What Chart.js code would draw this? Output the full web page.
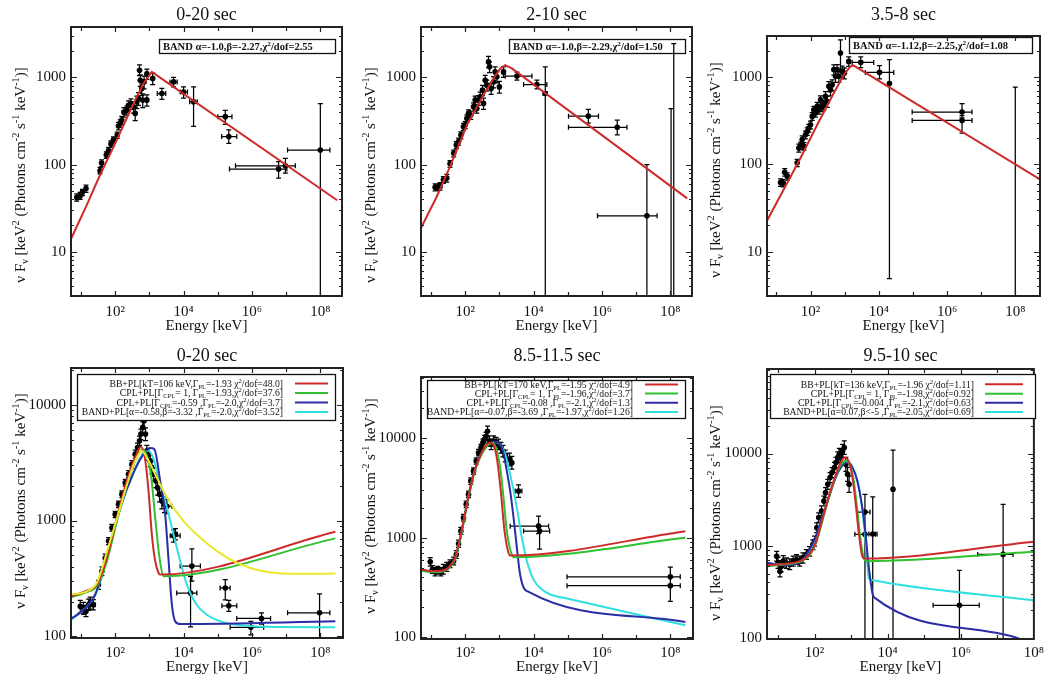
<!DOCTYPE html>
<html><head><meta charset="utf-8">
<script src="https://cdn.jsdelivr.net/npm/chart.js@4.4.1/dist/chart.umd.min.js"></script>
<style>
html,body{margin:0;padding:0;background:#fff;}
body{width:1049px;height:682px;position:relative;overflow:hidden;}
canvas{position:absolute;}
</style></head><body>
<canvas id="c1" width="350" height="341" style="left:0;top:0"></canvas>
<canvas id="c2" width="350" height="341" style="left:350px;top:0"></canvas>
<canvas id="c3" width="349" height="341" style="left:700px;top:0"></canvas>
<canvas id="c4" width="350" height="341" style="left:0;top:341px"></canvas>
<canvas id="c5" width="350" height="341" style="left:350px;top:341px"></canvas>
<canvas id="c6" width="349" height="341" style="left:700px;top:341px"></canvas>
<script>
// ---------------- text ----------------
const panelTitles = ['0-20 sec','2-10 sec','3.5-8 sec','0-20 sec','8.5-11.5 sec','9.5-10 sec'];
const xTitle = 'Energy [keV]';
const yTitle = 'ν F_{ν} [keV^{2} (Photons cm^{-2} s^{-1} keV^{-1})]';
const xTickExp  = [2, 4, 6, 8];
const xTickText = ['10²', '10⁴', '10⁶', '10⁸'];
const topYLabels = [10, 100, 1000];
const botYLabels = [100, 1000, 10000];
const bandLabels = [
  'BAND α=-1.0,β=-2.27,χ^{2}/dof=2.55',
  'BAND α=-1.0,β=-2.29,χ^{2}/dof=1.50',
  'BAND α=-1.12,β=-2.25,χ^{2}/dof=1.08'
];
const legend1 = [
  'BB+PL[kT=106 keV,Γ_{PL}=-1.93 χ^{2}/dof=48.0]',
  'CPL+PL[Γ_{CPL}= 1, Γ_{PL}=-1.93,χ^{2}/dof=37.6]',
  'CPL+PL[Γ_{CPL}=-0.59 ,Γ_{PL}=-2.0,χ^{2}/dof=3.7]',
  'BAND+PL[α=-0.58,β=-3.32 ,Γ_{PL}=-2.0,χ^{2}/dof=3.52]'
];
const legend2 = [
  'BB+PL[kT=170 keV,Γ_{PL}=-1.95 χ^{2}/dof=4.9]',
  'CPL+PL[Γ_{CPL}= 1, Γ_{PL}=-1.96,χ^{2}/dof=3.7]',
  'CPL+PL[Γ_{CPL}=-0.08 ,Γ_{PL}=-2.1,χ^{2}/dof=1.3]',
  'BAND+PL[α=-0.07,β=-3.69 ,Γ_{PL}=-1.97,χ^{2}/dof=1.26]'
];
const legend3 = [
  'BB+PL[kT=136 keV,Γ_{PL}=-1.96 χ^{2}/dof=1.11]',
  'CPL+PL[Γ_{CPL}= 1, Γ_{PL}=-1.98,χ^{2}/dof=0.92]',
  'CPL+PL[Γ_{CPL}=-0.004 ,Γ_{PL}=-2.1,χ^{2}/dof=0.63]',
  'BAND+PL[α=0.07,β<-5 ,Γ_{PL}=-2.05,χ^{2}/dof=0.69]'
];

// ---------------- panel 1 (top, 0-20 sec) ----------------
const t1E   = [7.5,9.5,11,14,36,40,55,64,75,89,115,125,140,155,180,219,245,290,344,385,430,480,540,515,600,640,700,845,845,1250,2320,5100,1e4,1.96e4,1.66e5,2.1e5,6e6,9.5e6,1e8];
const t1F   = [42,44,48,53,85,104,129,145,172,192,218,277,297,325,400,420,480,500,461,387,525,575,930,1210,750,550,890,550,1100,975,655,890,680,525,355,210,89,97,147];
const t1Elo = [7,8.8,10.2,13,34,38,52,61,71,85,110,119,133,147,171,208,233,276,327,366,409,456,513,490,570,608,665,780,800,1150,1700,4000,8000,1.5e4,1.0e5,1.3e5,2.2e5,3.3e5,1.1e7];
const t1Ehi = [8,10.2,11.8,15,38,42,58,67,79,93,120,131,147,163,189,230,257,304,361,404,451,504,567,540,630,672,735,910,890,1350,3000,6500,1.3e4,2.5e4,2.6e5,3.6e5,1.05e7,1.85e7,1.9e8];
const t1Flo = [38,40,44,48,78,95,118,133,158,176,200,250,268,292,350,370,420,430,390,320,440,480,790,1050,620,450,740,470,950,830,560,780,580,275,290,175,70,80,2];
const t1Fhi = [46,48,52,58,93,113,140,158,187,208,236,305,326,358,450,470,540,570,530,455,610,670,1070,1400,880,650,1040,630,1250,1120,750,1000,780,780,420,250,108,118,500];
const t1BandE = [5.1,14.8,36,112,344,675,1180,3.1e8];
const t1BandF = [14,34.5,76,192,504,853,1160,39];

// ---------------- panel 2 (top, 2-10 sec) ----------------
const t2E   = [13.2,15.5,18.5,23,29,36,46,55,64,75,89,100,112,125,146,175,196,219,245,275,320,344,385,430,480,515,575,675,750,845,1000,1320,3250,1.25e4,2.2e4,4e5,2.8e6,2.06e7,1.05e8,1.26e8];
const t2F   = [55,55,56,67,70,102,135,168,184,218,272,285,339,387,370,461,550,441,550,600,716,504,930,817,1510,1325,750,890,1160,1020,780,1160,1040,830,655,360,268,25.8,null,null];
const t2Elo = [12.5,14.7,17.5,22,27.5,34,44,52,61,71,85,95,106,119,139,166,186,208,233,261,304,327,366,409,456,490,546,641,713,803,950,1200,1480,5100,1.9e4,1.05e5,1.05e5,7.4e5,1.05e8,1.26e8];
const t2Ehi = [14,16.3,19.5,24,30.5,38,48,58,67,79,93,105,118,131,153,184,206,230,257,289,336,361,404,451,504,540,604,709,788,887,1050,1450,8930,2.45e4,2.5e4,7.9e5,5.4e6,4.1e7,1.05e8,1.26e8];
const t2Flo = [50,50,51,61,63,93,123,153,167,198,247,258,305,348,330,410,490,390,480,520,620,430,800,700,1300,1140,640,760,1000,870,660,1000,930,740,2,300,220,2,2,2];
const t2Fhi = [60,60,62,73,77,111,147,183,201,238,297,312,373,426,410,512,610,492,620,680,812,578,1060,934,1750,1510,860,1020,1320,1170,900,1320,1150,930,1325,430,325,100,440,2450];
const t2BandE = [5.1,14.8,36,112,344,675,1060,1480,2320,3.1e8];
const t2BandF = [18.7,43,95,284,628,975,1270,1385,1270,41];

// ---------------- panel 3 (top, 3.5-8 sec) ----------------
const t3E   = [13.2,15.8,17.5,20.8,40.7,45.5,51,57,64,71,80,89,100,112,125,140,157,176,196,220,246,275,308,344,385,430,482,540,603,675,755,845,985,1325,2960,1.05e4,2.05e4,2.75e6,2.75e6,1e8];
const t3F   = [62,61,81,73,104,154,164,192,161,218,238,260,284,354,420,387,461,422,550,461,482,600,525,782,716,815,1215,1020,1215,1020,1880,1160,1110,1510,1470,1130,840,397,318,null];
const t3Elo = [12.5,15,16.6,19.8,38.7,43,48.5,54,61,67.5,76,85,95,106,119,133,149,167,186,209,234,261,293,327,366,409,458,513,573,641,717,803,936,1200,1660,4050,1.9e4,9.5e4,9.5e4,1e8];
const t3Ehi = [14,16.6,18.4,21.8,42.7,48,53.5,60,67,74.5,84,93,105,118,131,147,165,185,206,231,258,289,323,361,404,451,506,567,633,709,793,887,1034,1450,7100,2.75e4,2.2e4,5.4e6,5.4e6,1e8];
const t3Flo = [56,55,73,66,94,138,148,173,145,196,214,234,255,318,378,348,410,375,490,400,420,520,450,680,610,700,1050,870,1040,870,1160,990,950,1320,1280,950,4.9,340,228,2];
const t3Fhi = [68,67,89,80,114,170,180,211,177,240,262,286,313,390,462,426,512,470,610,522,545,680,600,885,822,930,1380,1170,1390,1170,2670,1330,1270,1700,1700,1350,1580,495,360,768];
const t3BandE = [5.3,51,157,482,945,1480,1850,5.3e8];
const t3BandF = [22.6,118,284,655,1063,1325,1350,67];

// ---------------- panel 4 (bottom, 0-20 sec) ----------------
const b1E   = [9.5,11.8,14,16.6,18.5,23,32.5,41,51,64,80,100,125,157,196,245,308,385,450,515,565,640,700,770,845,945,1060,1180,1320,1550,1740,1980,2320,2740,3250,5100,5800,1.75e4,1.6e4,1.66e5,2.1e5,9.3e5,1.9e6,9.5e7];
const b1F   = [182,176,165,188,194,188,280,366,475,665,866,1130,1380,1690,2120,2510,3050,3740,4270,4880,5570,6360,7270,5570,3990,3740,3270,2870,2510,2200,1920,1690,1475,1380,1330,738,760,405,237,262,184,120,143,160];
const b1Elo = [9,11.2,13.3,15.8,17.6,20,31,39,48.5,61,76,95,119,149,186,233,293,366,428,490,537,608,665,732,803,898,1007,1121,1254,1470,1650,1880,2200,2600,2900,4070,5000,7950,6300,1.17e5,1.32e5,2.3e5,3.6e5,1.1e7];
const b1Ehi = [10,12.4,14.7,17.4,19.4,26,34,43,53.5,67,84,105,131,165,206,257,323,404,472,540,593,672,735,808,887,992,1113,1239,1386,1630,1830,2080,2440,2880,4560,7950,6600,3.1e4,2.45e4,2.3e5,3.6e5,2.2e6,3.5e6,1.9e8];
const b1Flo = [160,155,148,168,172,170,255,335,440,620,810,1060,1290,1580,1980,2340,2830,3450,3900,4450,5000,5600,6300,4900,3550,3300,2900,2530,2200,1920,1660,1450,1260,1170,1150,650,680,300,121,207,165,103,128,50];
const b1Fhi = [205,197,185,210,218,208,305,398,512,712,925,1200,1470,1800,2260,2690,3280,4050,4650,5350,6150,7100,8200,6300,4450,4200,3650,3220,2830,2500,2190,1940,1700,1600,1520,830,850,570,330,310,205,135,160,233];
const b1BBE  = [5.1,14.8,29,57,112,219,385,565,760,945,1180,1480,1860,2070,2.75e8];
const b1BBF  = [222,248,280,476,1060,2200,3500,4330,3270,1800,759,446,353,342,800];
const b1CPL1E = [5.1,14.8,29,57,112,219,385,640,845,1110,1480,1980,2600,2.75e8];
const b1CPL1F = [218,242,271,446,990,2050,3270,4130,3610,2510,1060,476,330,702];
const b1CPL2E = [5.1,11.8,26,57,140,344,675,1060,1390,2070,2900,3600,4550,5700,8000,2.75e8];
const b1CPL2F = [142,170,230,476,1290,2590,3740,4220,4130,2200,1130,476,188,135,128,135];
const b1BandE = [5.1,11.8,26,57,140,344,675,945,1320,2070,3250,5100,8000,1.25e4,2.4e4,4.8e4,1.2e5,4.6e5,2.8e6,2.75e8];
const b1BandF = [139,170,226,461,1250,2590,3860,4000,3390,2050,1290,759,446,280,188,154,135,125,121,120];
const b1YelE = [5.1,14.8,29,71,140,275,430,600,845,1650,3250,1e4,3.1e4,9.5e4,2.9e5,9e5,2.8e6,2.6e7,2.75e8];
const b1YelF = [230,245,290,665,1290,2510,3500,4000,3500,2350,1580,990,710,545,446,390,360,347,349];

// ---------------- panel 5 (bottom, 8.5-11.5 sec) ----------------
const b2E   = [9.5,11,13.2,15.8,19.4,23,29,36,46,55,64,75,89,107,125,146,175,210,245,290,330,370,410,450,515,575,675,800,945,1110,1270,1480,1740,1980,2320,3630,1.4e4,1.5e4,1e8,1e8];
const b2F   = [575,481,455,470,455,481,510,547,585,680,870,1170,1590,2170,2730,3720,4680,5910,7170,8060,9060,9770,10500,11800,9400,8700,9400,9060,8700,8060,7450,6650,6150,6150,5690,2950,1310,1170,405,330];
const b2Elo = [9,10.4,12.5,15,18.4,21,27,34,44,52,61,71,85,102,119,139,166,200,233,276,314,352,390,428,490,546,641,760,898,1055,1207,1406,1653,1880,2200,2900,2070,5100,9.5e4,9.5e4];
const b2Ehi = [10,11.6,13.9,16.6,20.4,25,31,38,48,58,67,79,93,112,131,153,184,220,257,304,346,388,430,472,540,604,709,840,992,1165,1333,1554,1827,2080,2440,4560,2.75e4,2.95e4,1.95e8,1.95e8];
const b2Flo = [520,440,415,430,415,430,460,500,535,620,800,1080,1470,2010,2530,3450,4350,5500,6650,7450,8350,8950,9600,10500,8300,7700,8300,8000,7700,7100,6500,5800,5300,5300,4900,2550,1100,770,340,230];
const b2Fhi = [630,525,500,515,500,540,565,600,640,745,945,1270,1720,2340,2950,4010,5040,6350,7730,8720,9830,10700,11500,13300,10600,9800,10600,10200,9800,9100,8500,7600,7100,7100,6600,3400,1650,1300,507,405];
const b2BBE  = [5.1,11.8,23,36,51,71,112,175,275,430,540,700,870,1100,1380,1740,2070,2.75e8];
const b2BBF  = [480,461,469,518,638,1000,2170,4340,6640,8700,9040,8370,5910,2950,1260,764,663,1165];
const b2CPL1E = [5.1,11.8,23,36,51,71,112,175,275,430,640,845,1060,1320,1650,2070,2600,2.75e8];
const b2CPL1F = [469,451,461,507,620,962,2090,4180,6490,8370,9040,7450,5070,2530,1165,764,638,1000];
const b2CPL2E = [5.1,11.8,23,36,51,71,112,175,275,430,675,945,1270,1650,2070,2600,3250,3900,4900,7200,2.75e8];
const b2CPL2F = [480,455,461,514,620,962,2170,4410,6790,8370,9250,9040,7450,4690,2950,1590,793,461,326,286,142];
const b2BandE = [5.1,11.8,23,36,51,71,112,175,275,430,700,1060,1480,2070,3250,4550,6400,1e4,1.75e4,3.1e4,9.5e4,2.75e8];
const b2BandF = [469,455,465,510,615,955,2170,4340,6640,8300,9190,8700,6900,4340,2000,1000,582,380,302,269,245,132];

// ---------------- panel 6 (bottom, 9.5-10 sec) ----------------
const b3E   = [9.2,10,11.3,12.3,13.9,17,21,26,32,39,48,60,73,90,100,115,130,155,180,200,230,265,300,350,385,430,474,520,583,650,718,800,883,2390,2390,3900,1.4e4,9.2e5,1.44e7];
const b3F   = [770,655,530,600,681,650,630,681,710,681,740,806,870,1030,1120,1570,2020,2380,3060,3770,4640,5490,6220,7040,7980,9050,9830,9430,10700,11600,7650,5960,4640,2320,1330,1340,4100,226,806];
const b3Elo = [8.7,9.5,10.7,11.7,13.2,16.2,20,24.7,30.4,37,45.6,57,69,85.5,95,109,124,147,171,190,219,252,285,333,366,409,450,494,554,618,682,760,839,1500,1260,3060,1.3e4,1.75e5,2.9e6];
const b3Ehi = [9.7,10.5,11.9,12.9,14.6,17.9,22,27.3,33.6,41,50.4,63,77,94.5,105,121,137,163,189,210,242,278,315,368,404,451,498,546,612,683,754,840,927,3300,4640,5130,1.5e4,3.2e6,2.7e7];
const b3Flo = [680,570,460,520,590,570,550,600,630,600,650,710,770,910,990,1390,1790,2100,2700,3330,4100,4850,5500,6200,7000,7900,8500,8100,9100,9800,6400,5000,3800,1330,50,50,50,50,50];
const b3Fhi = [870,750,610,690,780,740,720,770,800,770,840,910,980,1160,1270,1770,2280,2700,3460,4260,5250,6200,7050,8000,9100,10400,11400,11000,12600,13700,9100,7100,5700,3600,2320,3400,10900,540,2820];
const b3BBE  = [4.9,13.9,39,73,111,168,254,385,520,690,883,1090,1340,1640,2020,2330,1e8];
const b3BBF  = [617,636,681,806,1120,2020,3610,5960,7980,9050,7980,5490,2810,1330,773,728,1105];
const b3CPL1E = [4.9,13.9,39,73,111,168,254,385,520,718,950,1180,1450,1780,2190,2690,1e8];
const b3CPL1F = [601,627,670,785,1080,1930,3470,5720,7530,8320,7350,5050,2590,1220,753,681,861];
const b3CPL2E = [4.9,13.9,39,73,100,150,230,350,520,800,1090,1480,2020,2490,2930,3400,3900,4450,3.5e7,1e8];
const b3CPL2F = [653,617,653,912,1170,1850,3060,5050,7040,7980,7040,5050,2590,1330,681,413,296,272,100,81];
const b3BandE = [4.9,13.9,39,73,100,150,230,350,520,800,1090,1480,1940,2340,2710,3060,3400,1e8];
const b3BandF = [643,627,664,889,1140,1850,3110,5130,7160,8190,7160,5130,2810,1440,741,442,427,255];

// ---------------- styling / layout ----------------
const FONT = "'Liberation Serif','Times New Roman',serif";
const RED = '#cf2a2a', GREEN = '#30c030', BLUE = '#2c2ca6', CYAN = '#30e0e0', YELLOW = '#e8e82c';

function parseRich(s){
  const parts = []; const re = /(\^|_)\{([^}]*)\}/g; let last = 0, m;
  while ((m = re.exec(s))) {
    if (m.index > last) parts.push({t:s.slice(last, m.index), k:0});
    parts.push({t:m[2], k: m[1] === '^' ? 1 : -1});
    last = re.lastIndex;
  }
  if (last < s.length) parts.push({t:s.slice(last), k:0});
  return parts;
}
function drawRich(ctx, s, x, y, size, weight, align){
  const parts = parseRich(s);
  const f = sz => weight + ' ' + sz + 'px ' + FONT;
  let w = 0;
  parts.forEach(p => { ctx.font = f(p.k ? size*0.68 : size); p.w = ctx.measureText(p.t).width; w += p.w; });
  let cx = align === 'center' ? x - w/2 : align === 'right' ? x - w : x;
  ctx.textAlign = 'left'; ctx.textBaseline = 'alphabetic';
  parts.forEach(p => {
    ctx.font = f(p.k ? size*0.68 : size);
    const dy = p.k === 1 ? -size*0.40 : p.k === -1 ? size*0.22 : 0;
    ctx.fillText(p.t, cx, y + dy); cx += p.w;
  });
}
function xTicksFor(min, max){
  const out = [];
  for (let k = Math.ceil(Math.log10(min) - 1e-9); k <= Math.floor(Math.log10(max) + 1e-9); k++)
    out.push({value: Math.pow(10, k), major: k % 2 === 0});
  return out;
}
function yTicksFor(min, max){
  const out = [];
  for (let k = Math.floor(Math.log10(min)); k <= Math.floor(Math.log10(max)); k++)
    for (let m = 1; m <= 9; m++) { const v = m * Math.pow(10, k); if (v >= min && v <= max) out.push({value: v, major: m === 1}); }
  return out;
}

function drawErr(ch, P){
  const ctx = ch.ctx, a = ch.chartArea, xs = ch.scales.x, ys = ch.scales.y;
  ctx.save();
  ctx.beginPath(); ctx.rect(a.left, a.top, a.right - a.left, a.bottom - a.top); ctx.clip();
  ctx.strokeStyle = '#000'; ctx.lineWidth = 1.25; ctx.beginPath();
  const c = 2.5;
  for (let i = 0; i < P.E.length; i++) {
    const px = xs.getPixelForValue(P.E[i]);
    const y0 = ys.getPixelForValue(P.Flo[i]), y1 = ys.getPixelForValue(P.Fhi[i]);
    ctx.moveTo(px, y0); ctx.lineTo(px, y1);
    ctx.moveTo(px - c, y0); ctx.lineTo(px + c, y0);
    ctx.moveTo(px - c, y1); ctx.lineTo(px + c, y1);
    if (P.F[i] != null) {
      const py = ys.getPixelForValue(P.F[i]);
      const x0 = xs.getPixelForValue(P.Elo[i]), x1 = xs.getPixelForValue(P.Ehi[i]);
      if (x1 - x0 > 1.5) {
        ctx.moveTo(x0, py); ctx.lineTo(x1, py);
        ctx.moveTo(x0, py - c); ctx.lineTo(x0, py + c);
        ctx.moveTo(x1, py - c); ctx.lineTo(x1, py + c);
      }
    }
  }
  ctx.stroke(); ctx.restore();
}

function drawDeco(ch, P){
  const ctx = ch.ctx, a = ch.chartArea, xs = ch.scales.x, ys = ch.scales.y;
  ctx.save();
  ctx.strokeStyle = '#222'; ctx.lineWidth = 1.2; ctx.beginPath();
  xs.ticks.forEach(t => {
    const p = Math.round(xs.getPixelForValue(t.value)) + 0.5;
    if (p < a.left + 1 || p > a.right - 1) return;
    const L = t.major ? 5 : 4;
    ctx.moveTo(p, a.bottom); ctx.lineTo(p, a.bottom - L);
    ctx.moveTo(p, a.top); ctx.lineTo(p, a.top + L);
  });
  ys.ticks.forEach(t => {
    const p = Math.round(ys.getPixelForValue(t.value)) + 0.5;
    if (p < a.top + 1 || p > a.bottom - 1) return;
    const L = t.major ? 6 : 3;
    ctx.moveTo(a.left, p); ctx.lineTo(a.left + L, p);
    ctx.moveTo(a.right, p); ctx.lineTo(a.right - L, p);
  });
  ctx.stroke();
  ctx.lineWidth = 2;
  ctx.strokeRect(a.left, a.top, a.right - a.left, a.bottom - a.top);

  ctx.fillStyle = '#111';
  const cx = (a.left + a.right) / 2;
  drawRich(ctx, P.title, cx, 19.5, 18, 'normal', 'center');
  drawRich(ctx, xTitle, cx, 330, 15, 'normal', 'center');
  ctx.save(); ctx.translate(P.ytX, P.ytY); ctx.rotate(-Math.PI/2);
  drawRich(ctx, yTitle, 0, 5, 15, 'normal', 'center');
  ctx.restore();

  if (P.band) {
    const b = P.band;
    ctx.lineWidth = 1.3; ctx.strokeStyle = '#111';
    ctx.strokeRect(b.x + 0.5, b.y + 0.5, b.w, b.h);
    drawRich(ctx, b.text, b.tx, b.y + b.h/2 + 4, 10.5, 'bold', 'left');
  }
  if (P.legend) {
    const g = P.legend;
    ctx.fillStyle = '#fff'; ctx.fillRect(g.x, g.y, g.w, g.h);
    ctx.lineWidth = 1.3; ctx.strokeStyle = '#111';
    ctx.strokeRect(g.x + 0.5, g.y + 0.5, g.w, g.h);
    ctx.fillStyle = '#111';
    g.lines.forEach((s, i) => {
      drawRich(ctx, s, g.tr, g.ys[i] + 3.3, 9.7, 'normal', 'right');
      ctx.strokeStyle = g.colors[i]; ctx.lineWidth = 2;
      ctx.beginPath(); ctx.moveTo(g.s0, g.ys[i]); ctx.lineTo(g.s1, g.ys[i]); ctx.stroke();
    });
  }
  ctx.restore();
}

function build(P){
  const cv = document.getElementById(P.id);
  const W = cv.width, H = cv.height;
  const ds = [];
  P.curves.forEach(c => ds.push({
    type: 'line', data: c.E.map((e, i) => ({x: e, y: c.F[i]})),
    borderColor: c.color, borderWidth: 2, pointRadius: 0, pointHoverRadius: 0, fill: false,
    tension: 0, cubicInterpolationMode: P.smooth ? 'monotone' : 'default', order: 0
  }));
  ds.push({
    type: 'scatter', data: P.E.map((e, i) => ({x: e, y: P.F[i]})),
    backgroundColor: '#000', borderColor: '#000', borderWidth: 0,
    pointRadius: 2.8, pointHoverRadius: 2.8, order: 1
  });
  const yl = P.yLabels;
  new Chart(cv, {
    type: 'scatter',
    data: {datasets: ds},
    options: {
      responsive: false, animation: false, devicePixelRatio: 1,
      events: [],
      layout: {padding: {left: 0, top: P.T, right: W - P.R, bottom: 0}},
      plugins: {legend: {display: false}, tooltip: {enabled: false}, title: {display: false}},
      scales: {
        x: {
          type: 'logarithmic', position: 'bottom', min: P.xmin, max: P.xmax,
          grid: {display: false, drawTicks: false}, border: {display: false},
          ticks: {autoSkip: false, maxRotation: 0, minRotation: 0, padding: 303 - P.B, color: '#111',
            font: {family: FONT, size: 15, weight: 'normal'},
            callback: v => { const k = Math.round(Math.log10(v)); const j = xTickExp.indexOf(k); return j >= 0 ? xTickText[j] : ''; }},
          afterBuildTicks: s => { s.ticks = xTicksFor(P.xmin, P.xmax); },
          afterFit: s => { s.height = H - P.B; }
        },
        y: {
          type: 'logarithmic', position: 'left', min: P.ymin, max: P.ymax,
          grid: {display: false, drawTicks: false}, border: {display: false},
          ticks: {autoSkip: false, padding: 5, color: '#111',
            font: {family: FONT, size: 15, weight: 'normal'},
            callback: v => { const j = yl.findIndex(q => Math.abs(q - v) / q < 1e-6); return j >= 0 ? String(yl[j]) : ''; }},
          afterBuildTicks: s => { s.ticks = yTicksFor(P.ymin, P.ymax); },
          afterFit: s => { s.width = P.L; }
        }
      }
    },
    plugins: [{id: 'deco' + P.id, beforeDatasetsDraw: ch => drawErr(ch, P), afterDraw: ch => drawDeco(ch, P)}]
  });
}

const legendColors = [RED, GREEN, BLUE, CYAN];
const panels = [
  {id:'c1', title:panelTitles[0], L:71, T:27, R:342, B:296, xmin:5.1, xmax:4.3e8, ymin:3.1, ymax:3800, ytX:20, ytY:175, yLabels:topYLabels,
   E:t1E, F:t1F, Elo:t1Elo, Ehi:t1Ehi, Flo:t1Flo, Fhi:t1Fhi, smooth:false,
   curves:[{E:t1BandE, F:t1BandF, color:RED}],
   band:{text:bandLabels[0], x:159, y:39, w:176, h:14, tx:163}},
  {id:'c2', title:panelTitles[1], L:71, T:27, R:342, B:296, xmin:5.1, xmax:4.3e8, ymin:3.1, ymax:3800, ytX:20, ytY:175, yLabels:topYLabels,
   E:t2E, F:t2F, Elo:t2Elo, Ehi:t2Ehi, Flo:t2Flo, Fhi:t2Fhi, smooth:false,
   curves:[{E:t2BandE, F:t2BandF, color:RED}],
   band:{text:bandLabels[1], x:159, y:39, w:176, h:14, tx:163}},
  {id:'c3', title:panelTitles[2], L:67, T:36, R:340, B:296, xmin:5.3, xmax:5.3e8, ymin:3.1, ymax:2950, ytX:15, ytY:170, yLabels:topYLabels,
   E:t3E, F:t3F, Elo:t3Elo, Ehi:t3Ehi, Flo:t3Flo, Fhi:t3Fhi, smooth:false,
   curves:[{E:t3BandE, F:t3BandF, color:RED}],
   band:{text:bandLabels[2], x:149, y:37, w:183, h:16, tx:153}},
  {id:'c4', title:panelTitles[3], L:71, T:27, R:343, B:297, xmin:5.1, xmax:4.6e8, ymin:97, ymax:20700, ytX:20, ytY:160, yLabels:botYLabels,
   E:b1E, F:b1F, Elo:b1Elo, Ehi:b1Ehi, Flo:b1Flo, Fhi:b1Fhi, smooth:true,
   curves:[{E:b1YelE, F:b1YelF, color:YELLOW},{E:b1BBE, F:b1BBF, color:RED},{E:b1CPL1E, F:b1CPL1F, color:GREEN},{E:b1CPL2E, F:b1CPL2F, color:BLUE},{E:b1BandE, F:b1BandF, color:CYAN}],
   legend:{x:77, y:33, w:258, h:46, tr:283, s0:295, s1:328, ys:[42.5,52,61.5,71], lines:legend1, colors:legendColors}},
  {id:'c5', title:panelTitles[4], L:71, T:36, R:343, B:298, xmin:5.1, xmax:4.6e8, ymin:96, ymax:41400, ytX:20, ytY:165, yLabels:botYLabels,
   E:b2E, F:b2F, Elo:b2Elo, Ehi:b2Ehi, Flo:b2Flo, Fhi:b2Fhi, smooth:true,
   curves:[{E:b2BBE, F:b2BBF, color:RED},{E:b2CPL1E, F:b2CPL1F, color:GREEN},{E:b2CPL2E, F:b2CPL2F, color:BLUE},{E:b2BandE, F:b2BandF, color:CYAN}],
   legend:{x:77, y:39, w:258, h:38, tr:283, s0:295, s1:328, ys:[43.5,52.5,61.7,71], lines:legend2, colors:legendColors}},
  {id:'c6', title:panelTitles[5], L:67, T:28, R:338, B:298, xmin:5, xmax:1e8, ymin:97.5, ymax:82600, ytX:15, ytY:172, yLabels:botYLabels,
   E:b3E, F:b3F, Elo:b3Elo, Ehi:b3Ehi, Flo:b3Flo, Fhi:b3Fhi, smooth:true,
   curves:[{E:b3BBE, F:b3BBF, color:RED},{E:b3CPL1E, F:b3CPL1F, color:GREEN},{E:b3CPL2E, F:b3CPL2F, color:BLUE},{E:b3BandE, F:b3BandF, color:CYAN}],
   legend:{x:70, y:33, w:265, h:44, tr:274, s0:285, s1:323, ys:[43.3,52.7,61.7,71], lines:legend3, colors:legendColors}}
];
panels.forEach(build);
</script>
</body></html>
